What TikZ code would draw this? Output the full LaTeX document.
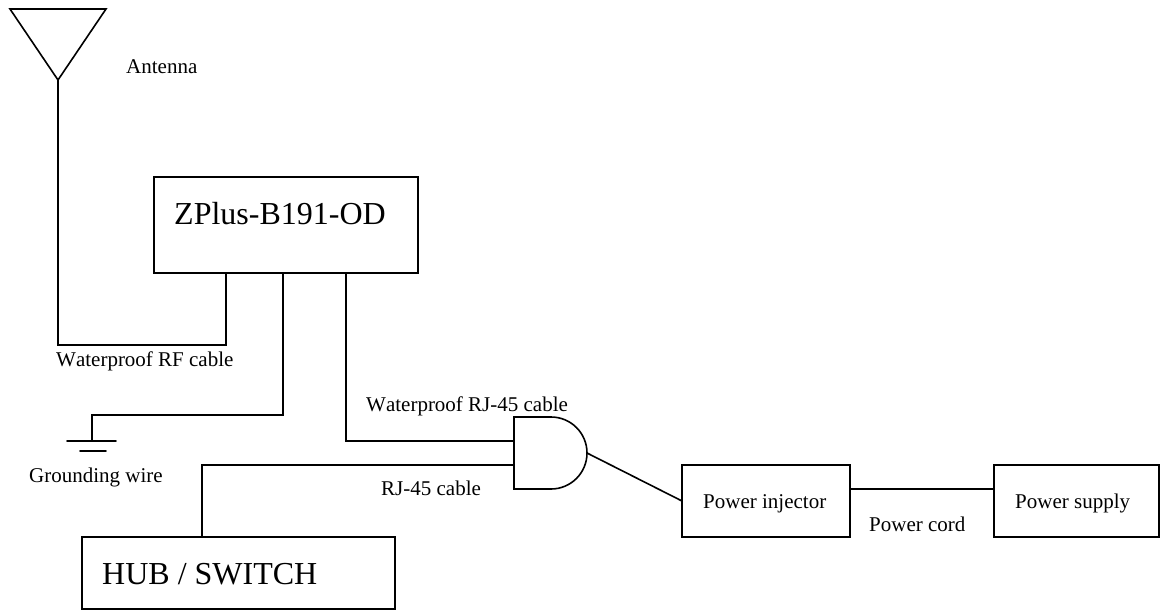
\documentclass[tikz,border=0pt]{standalone}
\usepackage{fontspec}
\setmainfont[Kerning=Off]{Liberation Serif}
\tikzset{
  wire/.style={draw=black,line width=1.6pt,line cap=round,line join=miter},
  unit/.style={draw=black,line width=1.6pt,rectangle,inner sep=0pt,outer sep=0pt,anchor=north west},
  small/.style={font=\fontsize{21}{21}\selectfont,inner sep=0pt,anchor=base west,text=black},
  large/.style={font=\fontsize{32}{32}\selectfont,inner sep=0pt,anchor=base west,text=black}
}
\begin{document}
\begin{tikzpicture}[x=1pt,y=-1pt]
\useasboundingbox (0,0) rectangle (1160,610);
% boxes
\node[unit,minimum width=264pt,minimum height=96pt] (zplus) at (154,177) {};
\node[unit,minimum width=313pt,minimum height=72pt] (hub) at (82,537) {};
\node[unit,minimum width=168pt,minimum height=72pt] (injector) at (682,465) {};
\node[unit,minimum width=165pt,minimum height=72pt] (supply) at (994,465) {};
% antenna
\coordinate (antL) at (10,9);
\coordinate (antR) at (106,9);
\coordinate (antT) at (58,80);
\draw[wire] (antL) -- (antR) -- (antT) -- cycle;
% ports
\coordinate (rfport) at (226,273);
\coordinate (gndport) at (283,273);
\coordinate (rjport) at (346,273);
\coordinate (hubport) at (202,537);
% gate
\coordinate (gateTL) at (514,417);
\coordinate (gateBL) at (514,489);
\coordinate (gateTF) at (551,417);
\coordinate (gateA) at (514,441);
\coordinate (gateB) at (514,465);
\coordinate (gateOut) at (587,453);
\coordinate (injIn) at (682,501);
\draw[wire] (gateBL) -- (gateTL) -- (gateTF) arc[start angle=90,end angle=-90,x radius=36,y radius=-36] -- cycle;
% connectors
\draw[wire] (antT) |- (226,345) -- (rfport);
\draw[wire] (gndport) -- (283,415) -- (92,415) coordinate (gndtop) -- (92,441) coordinate (gndmid);
\draw[wire] (rjport) |- (gateA);
\draw[wire] (hubport) |- (gateB);
\draw[wire] (gateOut) -- (injIn);
\draw[wire] (injector.east |- 0,489) -- (supply.west |- 0,489);
% ground symbol
\coordinate (gndLa) at (67,441);
\coordinate (gndRa) at (116,441);
\coordinate (gndLb) at (80,451);
\coordinate (gndRb) at (106,451);
\draw[wire] (gndLa) -- (gndRa);
\draw[wire] (gndLb) -- (gndRb);
% texts
\node[small] (tant) at (126,74) {Antenna};
\node[large] (tz) at (174,224) {ZPlus-B191-OD};
\node[small] (trf) at (56,366) {Waterproof RF cable};
\node[small] (tgw) at (29,482) {Grounding wire};
\node[small] (trjw) at (366,411) {Waterproof RJ-45 cable};
\node[small] (trj) at (381,495) {RJ-45 cable};
\node[large] (thub) at (102,584) {HUB / SWITCH};
\node[small] (tinj) at (703,508) {Power injector};
\node[small] (tcord) at (869,531) {Power cord};
\node[small] (tsup) at (1015,508) {Power supply};
\end{tikzpicture}
\end{document}
